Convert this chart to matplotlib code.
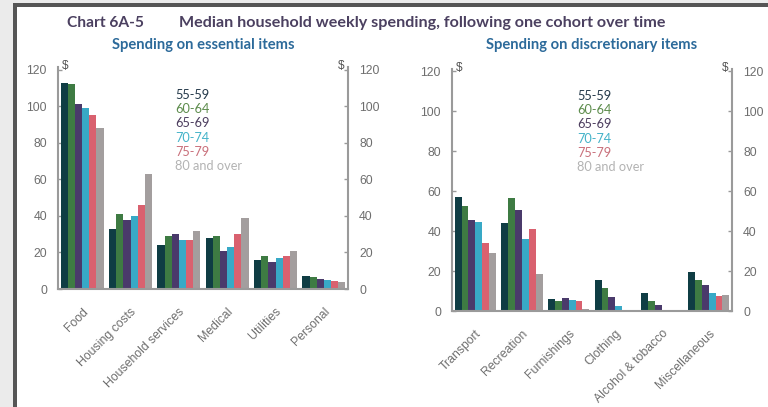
import matplotlib
matplotlib.use("Agg")
import matplotlib.pyplot as plt
from matplotlib.patches import Rectangle
import numpy as np

# Age cohorts (one cohort followed over time)
cohorts = ["55-59", "60-64", "65-69", "70-74", "75-79", "80 and over"]
bar_colors = ["#0f3d44", "#3e7b43", "#4a3a6b", "#38a9c6", "#d9616f", "#a39e9e"]
legend_colors = ["#24394a", "#5d8c4c", "#4c3d5e", "#45b3c9", "#c9707b", "#b3b3b3"]

# Essential items, median weekly spending ($)
essential_items = ["Food", "Housing costs", "Household services", "Medical", "Utilities", "Personal"]
essential_55_59 = [113, 33, 24, 28, 16, 7.0]
essential_60_64 = [112, 41, 29, 29, 18, 6.5]
essential_65_69 = [101, 38, 30, 21, 15, 5.5]
essential_70_74 = [99, 40, 27, 23, 17, 5.0]
essential_75_79 = [95, 46, 27, 30, 18, 4.5]
essential_80_over = [88, 63, 32, 39, 21, 4.0]

# Discretionary items, median weekly spending ($)
discretionary_items = ["Transport", "Recreation", "Furnishings", "Clothing",
                       "Alcohol & tobacco", "Miscellaneous"]
discretionary_55_59 = [57, 44, 6.0, 15.5, 9.0, 19.5]
discretionary_60_64 = [52.5, 56.5, 5.0, 11.5, 5.0, 15.5]
discretionary_65_69 = [45.5, 50.5, 6.5, 7.0, 3.0, 13.0]
discretionary_70_74 = [44.5, 36, 5.5, 2.5, 0.5, 9.0]
discretionary_75_79 = [34, 41, 5.0, 0.5, 0.5, 7.5]
discretionary_80_over = [29, 18.5, 0.8, 0.5, 0.5, 8.0]

yticks = [0, 20, 40, 60, 80, 100, 120]

W, H = 768, 407
fig = plt.figure(figsize=(W / 100, H / 100), dpi=100)
fig.patch.set_facecolor("white")

def px_rect(x0, y0, x1, y1, color):
    fig.add_artist(Rectangle((x0 / W, 1 - y1 / H), (x1 - x0) / W, (y1 - y0) / H,
                             transform=fig.transFigure, facecolor=color,
                             edgecolor="none", zorder=-10))

# page background and frame
px_rect(0, 0, 13, H, "#ebebeb")
px_rect(0, 0, W, 3, "#ebebeb")
px_rect(13, 3, 17, H, "#555555")
px_rect(13, 3, W, 7, "#555555")

tick_col = "#6e6e6e"
spine_col = "#9a9a9a"
label_font = "Liberation Sans"
title_font = "Lato"


def panel(rect, items, series, ymax, subtitle, legend_xy):
    x0, y0, x1, y1 = rect
    ax = fig.add_axes([x0 / W, 1 - y1 / H, (x1 - x0) / W, (y1 - y0) / H])
    n = len(series)
    width = 0.148
    x = np.arange(len(items))
    for i, vals in enumerate(series):
        ax.bar(x + (i - (n - 1) / 2) * width, vals, width=width,
               color=bar_colors[i], edgecolor="none", zorder=2)
    ax.set_xlim(-0.5, len(items) - 0.5)
    ax.set_ylim(0, ymax)
    ax.set_yticks(yticks)
    ax.set_xticks(x)
    ax.set_xticklabels(items, rotation=45, ha="right", rotation_mode="anchor",
                       fontsize=8.8, color=tick_col, family=label_font)
    ax.tick_params(axis="x", length=0, pad=12)
    ax.tick_params(axis="y", direction="in", length=3, width=1, color=spine_col,
                   labelsize=8.8, labelcolor=tick_col, left=True, right=True,
                   labelleft=True, labelright=True, pad=8)
    for lab in ax.get_yticklabels():
        lab.set_family(label_font)
    ax.spines["top"].set_visible(False)
    for s in ("left", "right", "bottom"):
        ax.spines[s].set_color(spine_col)
        ax.spines[s].set_linewidth(1.5)
    ax.set_facecolor("none")
    # unit markers at the top of each y axis
    ax.text(0.012, 1.005, "$", transform=ax.transAxes, ha="left", va="center",
            fontsize=8.5, color="#555555", family=label_font)
    ax.text(0.988, 1.005, "$", transform=ax.transAxes, ha="right", va="center",
            fontsize=8.5, color="#555555", family=label_font)
    # subtitle
    fig.text(((x0 + x1) / 2 - 0) / W, 1 - 45 / H, subtitle, ha="center", va="center",
             fontsize=10.6, fontweight="bold", color="#2c6a9a", family=title_font)
    # coloured legend text
    lx, ly = legend_xy
    for i, name in enumerate(cohorts):
        fig.text(lx / W, 1 - (ly + i * 14.2) / H, name, ha="left", va="center",
                 fontsize=9.2, color=legend_colors[i], family=title_font)
    return ax


panel((58, 67, 348, 289), essential_items,
      [essential_55_59, essential_60_64, essential_65_69,
       essential_70_74, essential_75_79, essential_80_over],
      121.5, "Spending on essential items", (175, 95))

panel((452, 69, 732, 311), discretionary_items,
      [discretionary_55_59, discretionary_60_64, discretionary_65_69,
       discretionary_70_74, discretionary_75_79, discretionary_80_over],
      121, "Spending on discretionary items", (577, 96))

fig.text(67 / W, 1 - 23 / H, "Chart 6A-5", ha="left", va="center",
         fontsize=11.2, fontweight="bold", color="#4b4060", family=title_font)
fig.text(179 / W, 1 - 23 / H,
         "Median household weekly spending, following one cohort over time",
         ha="left", va="center", fontsize=11.6, fontweight="bold",
         color="#4b4060", family=title_font)

fig.savefig("out.png", dpi=100, facecolor=fig.get_facecolor())
